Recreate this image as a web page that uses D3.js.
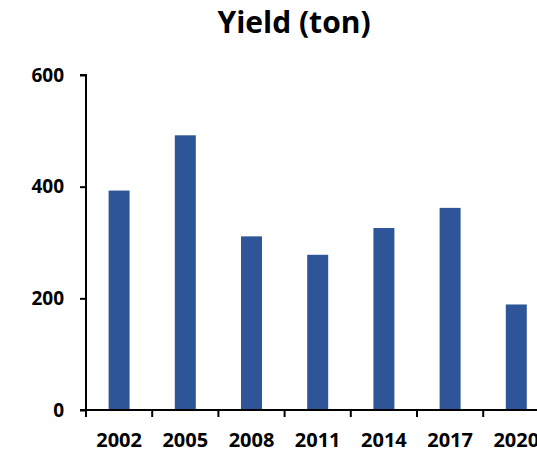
<!DOCTYPE html>
<html>
<head>
<meta charset="utf-8">
<script src="https://cdn.jsdelivr.net/npm/d3@7"></script>
<style>
  html, body { margin: 0; padding: 0; background: #fff; }
  svg { display: block; font-family: "Open Sans", "DejaVu Sans", sans-serif; }
</style>
</head>
<body>
<svg id="chart" width="537" height="452"></svg>
<script>
// Yield per survey year
const years = ["2002", "2005", "2008", "2011", "2014", "2017", "2020"];
const yieldTon = [393, 492, 311, 278, 326, 362, 189];
const yTicks = [0, 200, 400, 600];
const titleText = "Yield (ton)";

const svg = d3.select("#chart");
const plotLeft = 86, plotTop = 75, plotBottom = 410, step = 66.2;
const barColor = "#2E5597";

const x = d3.scaleBand()
  .domain(years)
  .range([plotLeft, plotLeft + step * years.length])
  .paddingInner(0.683)
  .paddingOuter(0.683 / 2);

const y = d3.scaleLinear().domain([0, 600]).range([plotBottom, plotTop]);

// bars
svg.append("g")
  .selectAll("rect")
  .data(years.map((yr, i) => ({ yr, v: yieldTon[i] })))
  .join("rect")
  .attr("x", d => x(d.yr))
  .attr("width", x.bandwidth())
  .attr("y", d => y(d.v))
  .attr("height", d => y(0) - y(d.v))
  .attr("fill", barColor);

// y axis
const yAxis = svg.append("g")
  .attr("transform", `translate(${plotLeft},0)`)
  .call(d3.axisLeft(y).tickValues(yTicks).tickSize(6).tickPadding(16).tickFormat(d3.format("d")));
yAxis.select(".domain").attr("stroke", "#000").attr("stroke-width", 2).attr("d", `M-6,${plotTop}H0V${plotBottom}`);
yAxis.selectAll(".tick line").attr("stroke", "#000").attr("stroke-width", 2);
yAxis.selectAll(".tick text")
  .attr("fill", "#000")
  .style("font-size", "19px")
  .style("font-weight", "700")
  .style("font-family", "'Open Sans', sans-serif");

// x axis: ticks sit on category boundaries, labels centred in each band
const xAxis = svg.append("g");
xAxis.append("line")
  .attr("x1", plotLeft - 6).attr("x2", 537)
  .attr("y1", plotBottom).attr("y2", plotBottom)
  .attr("stroke", "#000").attr("stroke-width", 2);
const boundaries = years.map(yr => x(yr) - (x.step() - x.bandwidth()) / 2);
xAxis.selectAll(".xtick")
  .data(boundaries)
  .join("line")
  .attr("class", "xtick")
  .attr("x1", d => d).attr("x2", d => d)
  .attr("y1", plotBottom).attr("y2", plotBottom + 7)
  .attr("stroke", "#000").attr("stroke-width", 2);
xAxis.selectAll(".xlabel")
  .data(years)
  .join("text")
  .attr("class", "xlabel")
  .attr("x", d => x(d) + x.bandwidth() / 2)
  .attr("y", 447)
  .attr("text-anchor", "middle")
  .style("font-size", "20px")
  .style("font-weight", "700")
  .text(d => d);

// title
svg.append("text")
  .attr("x", 294)
  .attr("y", 33)
  .attr("text-anchor", "middle")
  .style("font-size", "30px")
  .style("font-weight", "700")
  .text(titleText);
</script>
</body>
</html>
